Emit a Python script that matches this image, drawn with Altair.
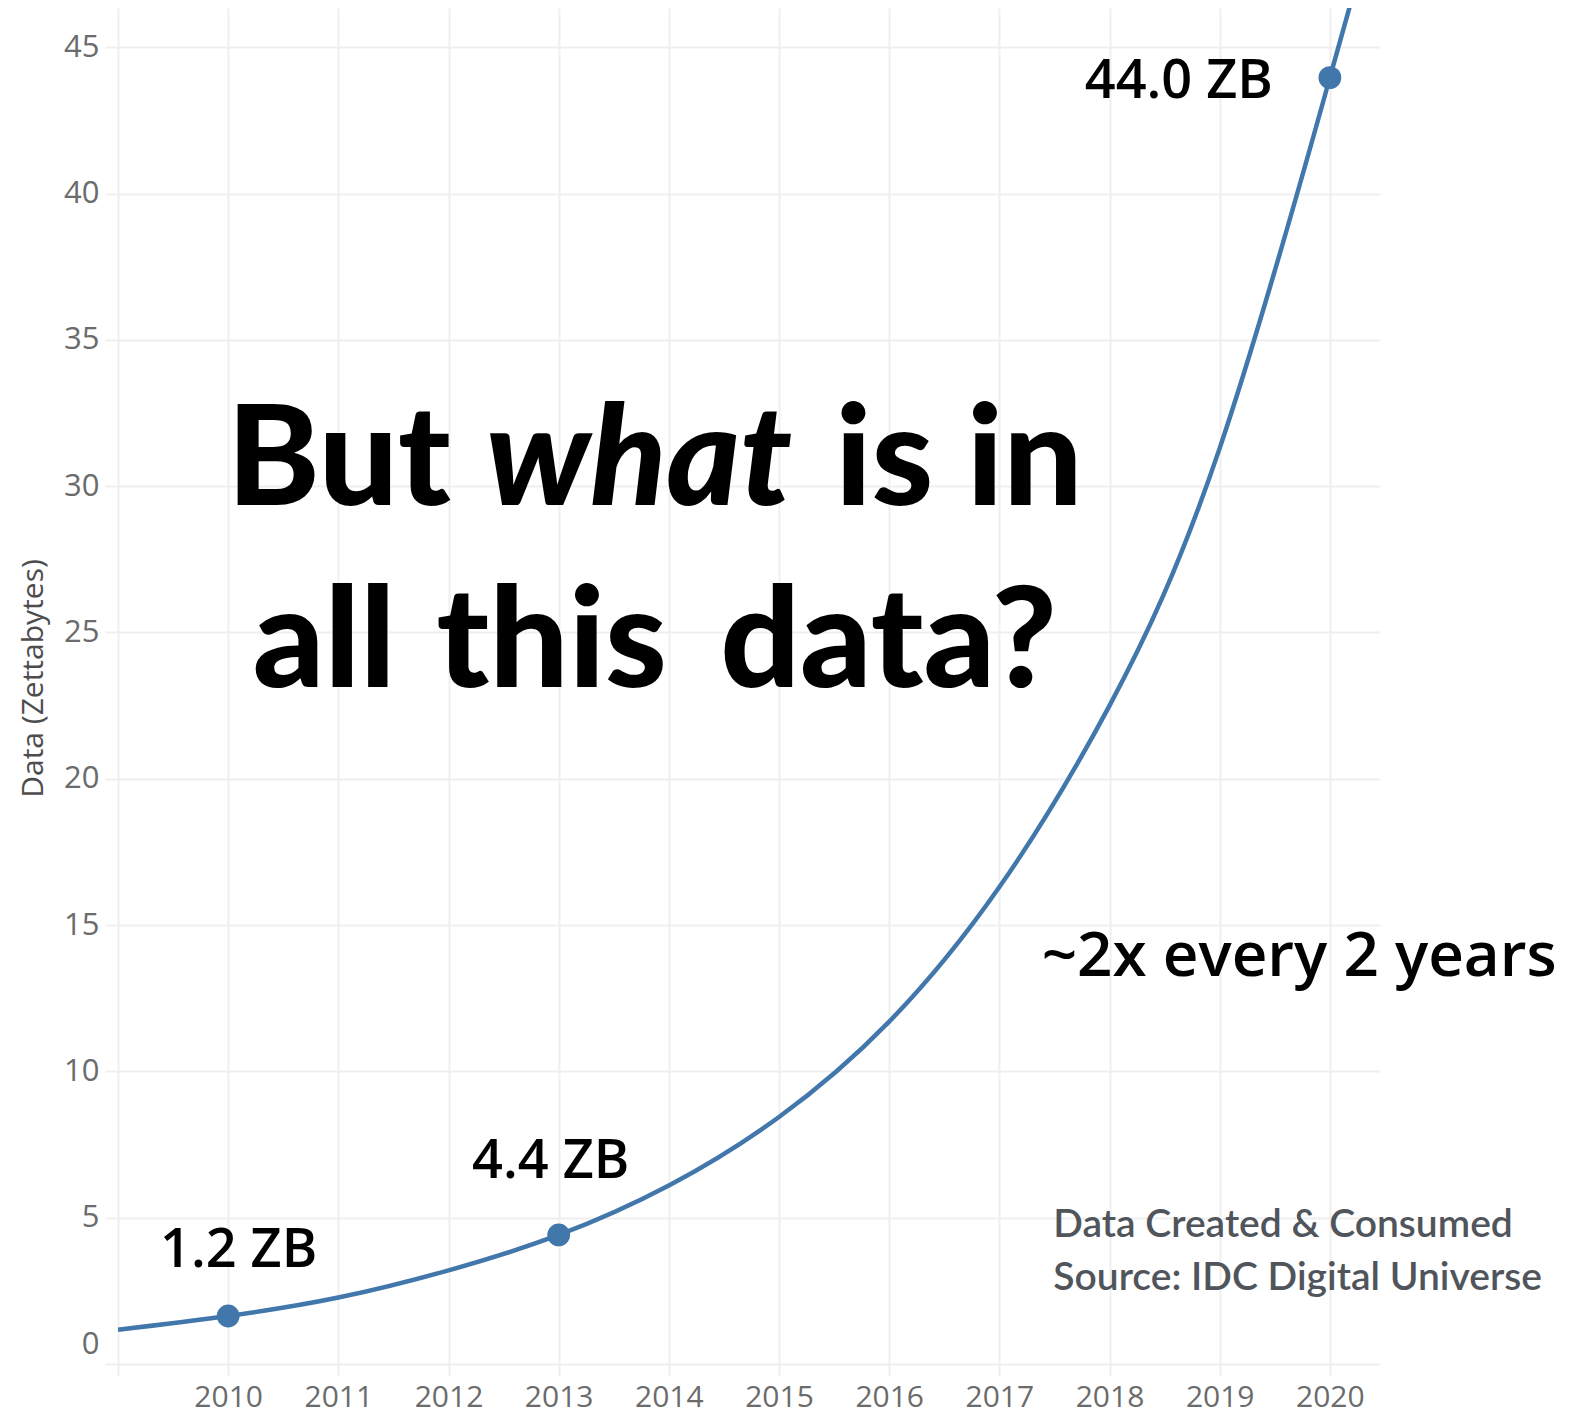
import altair as alt
import pandas as pd

# ---- data ----
curve_years = [2009, 2010, 2011, 2012, 2013, 2014, 2015, 2016, 2017, 2018, 2019, 2020, 2020.3]
curve_values = [1.17, 1.64, 2.27, 3.2, 4.41, 6.1, 8.44, 11.7, 16.3, 22.5, 31.3, 43.96, 48.0]

point_years = [2010, 2013, 2020]
point_values = [1.64, 4.41, 43.96]
point_labels = ["1.2 ZB", "4.4 ZB", "44.0 ZB"]

year_ticks = [2009, 2010, 2011, 2012, 2013, 2014, 2015, 2016, 2017, 2018, 2019, 2020]
value_ticks = [0, 5, 10, 15, 20, 25, 30, 35, 40, 45]

title_line1 = ["But", "what", "is in"]
title_line2 = ["all", "this", "data?"]
growth_note = ["~2x every 2 years"]
source_lines = ["Data Created & Consumed", "Source: IDC Digital Universe"]
y_title = "Data (Zettabytes)"

# ---- styling ----
BLUE = "#4177aa"
GRID = "#efefef"
LABEL = "#6b6b6b"
W, H = 1262, 1356

curve_df = pd.DataFrame({"year": curve_years, "value": curve_values})
points_df = pd.DataFrame({"year": point_years, "value": point_values, "label": point_labels})

xs = alt.Scale(domain=[2009, 2020.455], nice=False, zero=False)
ys = alt.Scale(domain=[0, 46.34], nice=False)

x_axis = alt.Axis(
    values=year_ticks, format="d", title=None,
    labelExpr="datum.value == 2009 ? '' : datum.label",
    domain=False, tickSize=12, tickColor=GRID, tickWidth=2,
    grid=True, gridColor=GRID, gridWidth=2,
    labelFont="Open Sans", labelFontSize=30, labelColor=LABEL,
    labelBaseline="alphabetic", labelPadding=30,
)
y_axis = alt.Axis(
    values=value_ticks, title=y_title,
    titleFont="Open Sans", titleFontSize=30, titleFontWeight="normal", titleColor="#4d4d4d",
    titleX=-85, titleY=670, titleBaseline="middle", titleAlign="center",
    domain=False, tickSize=13, tickColor=GRID, tickWidth=2,
    grid=True, gridColor=GRID, gridWidth=2,
    labelFont="Open Sans", labelFontSize=31, labelColor=LABEL, labelPadding=6,
    labelFlush=True, labelFlushOffset=-4,
)

line = alt.Chart(curve_df).mark_line(
    color=BLUE, strokeWidth=4.5, interpolate="natural", clip=True
).encode(
    x=alt.X("year:Q", scale=xs, axis=x_axis),
    y=alt.Y("value:Q", scale=ys, axis=y_axis),
)

points = alt.Chart(points_df).mark_circle(color=BLUE, size=520, opacity=1).encode(
    x=alt.X("year:Q", scale=xs),
    y=alt.Y("value:Q", scale=ys),
)

label_offsets = {"1.2 ZB": (10.5, -49), "4.4 ZB": (-8, -56.5), "44.0 ZB": (-151, 20)}
label_layers = []
for lab in point_labels:
    dx, dy = label_offsets[lab]
    label_layers.append(
        alt.Chart(points_df).transform_filter(alt.datum.label == lab).mark_text(
            font="Open Sans", fontSize=54, fontWeight=600, color="#000000",
            align="center", baseline="alphabetic", dx=dx, dy=dy,
        ).encode(
            x=alt.X("year:Q", scale=xs),
            y=alt.Y("value:Q", scale=ys),
            text="label:N",
        )
    )


def text_layer(txt, x, y, size, weight, color, align, font, style="normal"):
    return alt.Chart(pd.DataFrame({"t": [txt]})).mark_text(
        font=font, fontSize=size, fontWeight=weight, fontStyle=style,
        color=color, align=align, baseline="alphabetic",
    ).encode(text="t:N", x=alt.value(x), y=alt.value(y))


TS = 140
big = [
    text_layer(title_line1[0], 220.9, 497, TS, 900, "#000000", "center", "Lato"),
    text_layer(title_line1[1], 521.0, 497, TS, 900, "#000000", "center", "Lato", "italic"),
    text_layer(title_line1[2], 840.9, 497, TS, 900, "#000000", "center", "Lato"),
    text_layer(title_line2[0], 206.2, 678.7, TS, 900, "#000000", "center", "Lato"),
    text_layer(title_line2[1], 433.7, 678.7, TS, 900, "#000000", "center", "Lato"),
    text_layer(title_line2[2], 770.5, 678.7, TS, 900, "#000000", "center", "Lato"),
]
notes = [
    text_layer(growth_note[0], 1181.2, 968, 62, 600, "#000000", "center", "Open Sans"),
    text_layer(source_lines[0], 935.3, 1228.7, 39, 600, "#50555c", "left", "Lato"),
    text_layer(source_lines[1], 935.3, 1282.3, 39, 600, "#50555c", "left", "Lato"),
]

chart = alt.layer(line, points, *label_layers, *big, *notes).properties(
    width=W, height=H,
    autosize=alt.AutoSizeParams(type="none"),
    padding={"left": 110, "top": 0, "right": 193, "bottom": 51},
    background="white",
).configure_view(stroke=None)

chart.save("out.html", embed_options={"renderer": "svg", "actions": False})
